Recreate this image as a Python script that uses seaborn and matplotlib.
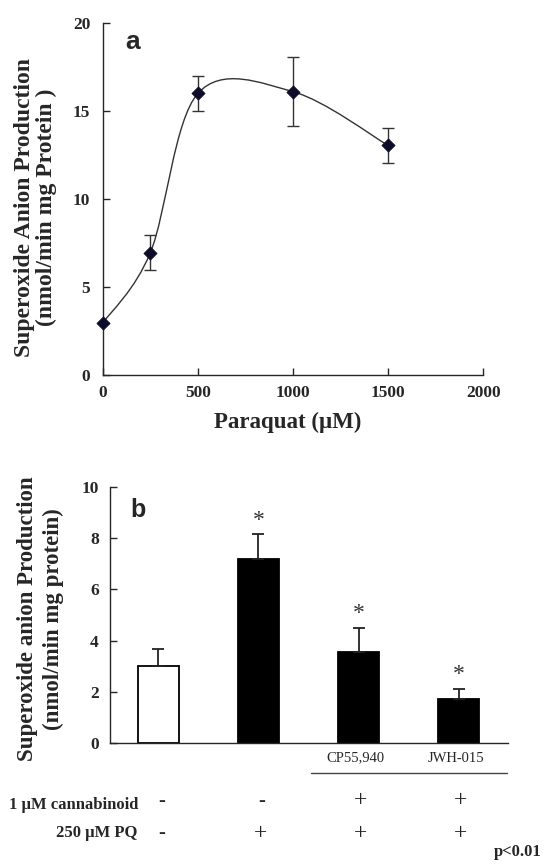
import numpy as np
import pandas as pd
import matplotlib
matplotlib.use("Agg")
import matplotlib.pyplot as plt
from matplotlib.path import Path
from matplotlib.patches import PathPatch
import seaborn as sns

# panel a : dose response
paraquat_um = [0, 250, 500, 1000, 1500]
superoxide_a = [2.95, 6.95, 16.0, 16.1, 13.05]
sem_a = [0.0, 1.0, 1.0, 1.95, 1.0]

# panel b : cannabinoid treatment
groups = ['control', 'PQ', 'CP55,940', 'JWH-015']
superoxide_b = [3.02, 7.17, 3.54, 1.71]
sem_b = [0.67, 0.97, 0.96, 0.42]
significant = [False, True, True, True]
drug_names = ['', '', 'CP55,940', 'JWH-015']
cannabinoid_row = ['-', '-', '+', '+']
pq_row = ['-', '+', '+', '+']

sns.set_theme(style='white')
plt.rcParams['font.family'] = ['Liberation Serif', 'DejaVu Sans']
plt.rcParams['axes.linewidth'] = 1.0

fig = plt.figure(figsize=(5.44, 8.66), dpi=100)

# ---------- panel a ----------
ax1 = fig.add_axes([0.189, 0.567, 0.699, 0.4064])
df_a = pd.DataFrame({'paraquat': paraquat_um, 'superoxide': superoxide_a, 'sem': sem_a})

# smoothed line (catmull-rom as bezier segments, like excel's smoothed line)
pts = df_a[['paraquat', 'superoxide']].to_numpy(dtype=float)
ext = np.vstack([pts[0], pts, pts[-1]])
verts = [tuple(pts[0])]
codes = [Path.MOVETO]
for i in range(1, len(ext) - 2):
    p0, p1, p2, p3 = ext[i - 1], ext[i], ext[i + 1], ext[i + 2]
    verts += [tuple(p1 + (p2 - p0) / 6), tuple(p2 - (p3 - p1) / 6), tuple(p2)]
    codes += [Path.CURVE4] * 3
ax1.add_patch(PathPatch(Path(verts, codes), fill=False, edgecolor='#333333', lw=1.0))

ax1.errorbar(df_a['paraquat'], df_a['superoxide'], yerr=df_a['sem'], fmt='none',
             ecolor='#333333', elinewidth=1.0, capsize=4.5, capthick=1.0)
sns.scatterplot(data=df_a, x='paraquat', y='superoxide', marker='D', s=45,
                color='#0b0b2a', edgecolor='#0b0b2a', zorder=5, clip_on=False, ax=ax1)

ax1.set_xlim(0, 2000)
ax1.set_ylim(0, 20)
ax1.set_xticks([0, 500, 1000, 1500, 2000])
ax1.set_yticks([0, 5, 10, 15, 20])
ax1.tick_params(axis='both', direction='in', length=5, width=1.0, labelsize=12.5,
                left=True, bottom=True)
ax1.tick_params(axis='y', pad=9)
ax1.tick_params(axis='x', pad=7)
for lab in ax1.get_xticklabels() + ax1.get_yticklabels():
    lab.set_fontweight('bold')
sns.despine(ax=ax1)
ax1.set_xlabel('Paraquat (\u00b5M)', fontsize=16.5, fontweight='bold')
ax1.xaxis.set_label_coords(0.487, -0.105)
ax1.set_ylabel('Superoxide Anion Production\n(nmol/min mg Protein )', fontsize=17,
               fontweight='bold', ha='center', va='center', linespacing=1.05)
ax1.yaxis.set_label_coords(-0.176, 0.475)
ax1.text(0.077, 0.945, 'a', transform=ax1.transAxes, fontsize=19, fontweight='bold',
         family='Liberation Sans', ha='center', va='center')

# ---------- panel b ----------
ax2 = fig.add_axes([0.202, 0.1417, 0.732, 0.2963])
df_b = pd.DataFrame({'group': groups, 'superoxide': superoxide_b, 'sem': sem_b})
bar_colors = ['white', 'black', 'black', 'black']
sns.barplot(data=df_b, x='group', y='superoxide', hue='group', palette=bar_colors,
            legend=False, width=0.417, edgecolor='black', linewidth=1.3, ax=ax2)
ax2.errorbar(np.arange(len(groups)), df_b['superoxide'],
             yerr=[np.zeros(len(groups)), df_b['sem']], fmt='none', ecolor='#222222',
             elinewidth=1.3, capsize=4, capthick=1.3, zorder=1)

for i, row in df_b.iterrows():
    if significant[i]:
        ax2.text(i, row['superoxide'] + row['sem'] + 0.55, '*', ha='center', va='center',
                 fontsize=17, color='#333333')

ax2.set_xlim(-0.485, 3.495)
ax2.set_ylim(0, 10)
ax2.set_yticks([0, 2, 4, 6, 8, 10])
ax2.set_xticks([])
ax2.set_xlabel('')
ax2.tick_params(axis='y', direction='in', length=5, width=1.0, labelsize=12.5, pad=8,
                left=True)
for lab in ax2.get_yticklabels():
    lab.set_fontweight('bold')
sns.despine(ax=ax2)
ax2.set_ylabel('Superoxide anion Production\n(nmol/min mg protein)', fontsize=16.5,
               fontweight='bold', ha='center', va='center', linespacing=1.3)
ax2.yaxis.set_label_coords(-0.175, 0.485)
ax2.text(0.07, 0.91, 'b', transform=ax2.transAxes, fontsize=18, fontweight='bold',
         family='Liberation Sans', ha='center', va='center')

# treatment table under the bars
for i, name in enumerate(drug_names):
    if name:
        ax2.text(i - 0.03, -0.58, name, ha='center', va='center', fontsize=10.5,
                 clip_on=False)
ax2.plot([1.53, 3.48], [-1.17, -1.17], color='#444444', lw=1.0, clip_on=False)
ax2.text(-0.205, -2.40, '1 \u00b5M cannabinoid', ha='right', va='center', fontsize=12,
         fontweight='bold', clip_on=False)
ax2.text(-0.205, -3.51, '250 \u00b5M PQ', ha='right', va='center', fontsize=12,
         fontweight='bold', clip_on=False)
for i, (c, p) in enumerate(zip(cannabinoid_row, pq_row)):
    for sign, yv in ((c, -2.25), (p, -3.51)):
        if sign == '+':
            ax2.text(i + 0.02, yv, '+', ha='center', va='center', fontsize=17,
                     clip_on=False)
        else:
            ax2.text(i + 0.03, yv, '-', ha='center', va='center', fontsize=15,
                     fontweight='bold', clip_on=False)
fig.text(0.996, 0.007, 'p<0.01', ha='right', va='bottom', fontsize=12, fontweight='bold')

fig.savefig('out.png', dpi=100)
